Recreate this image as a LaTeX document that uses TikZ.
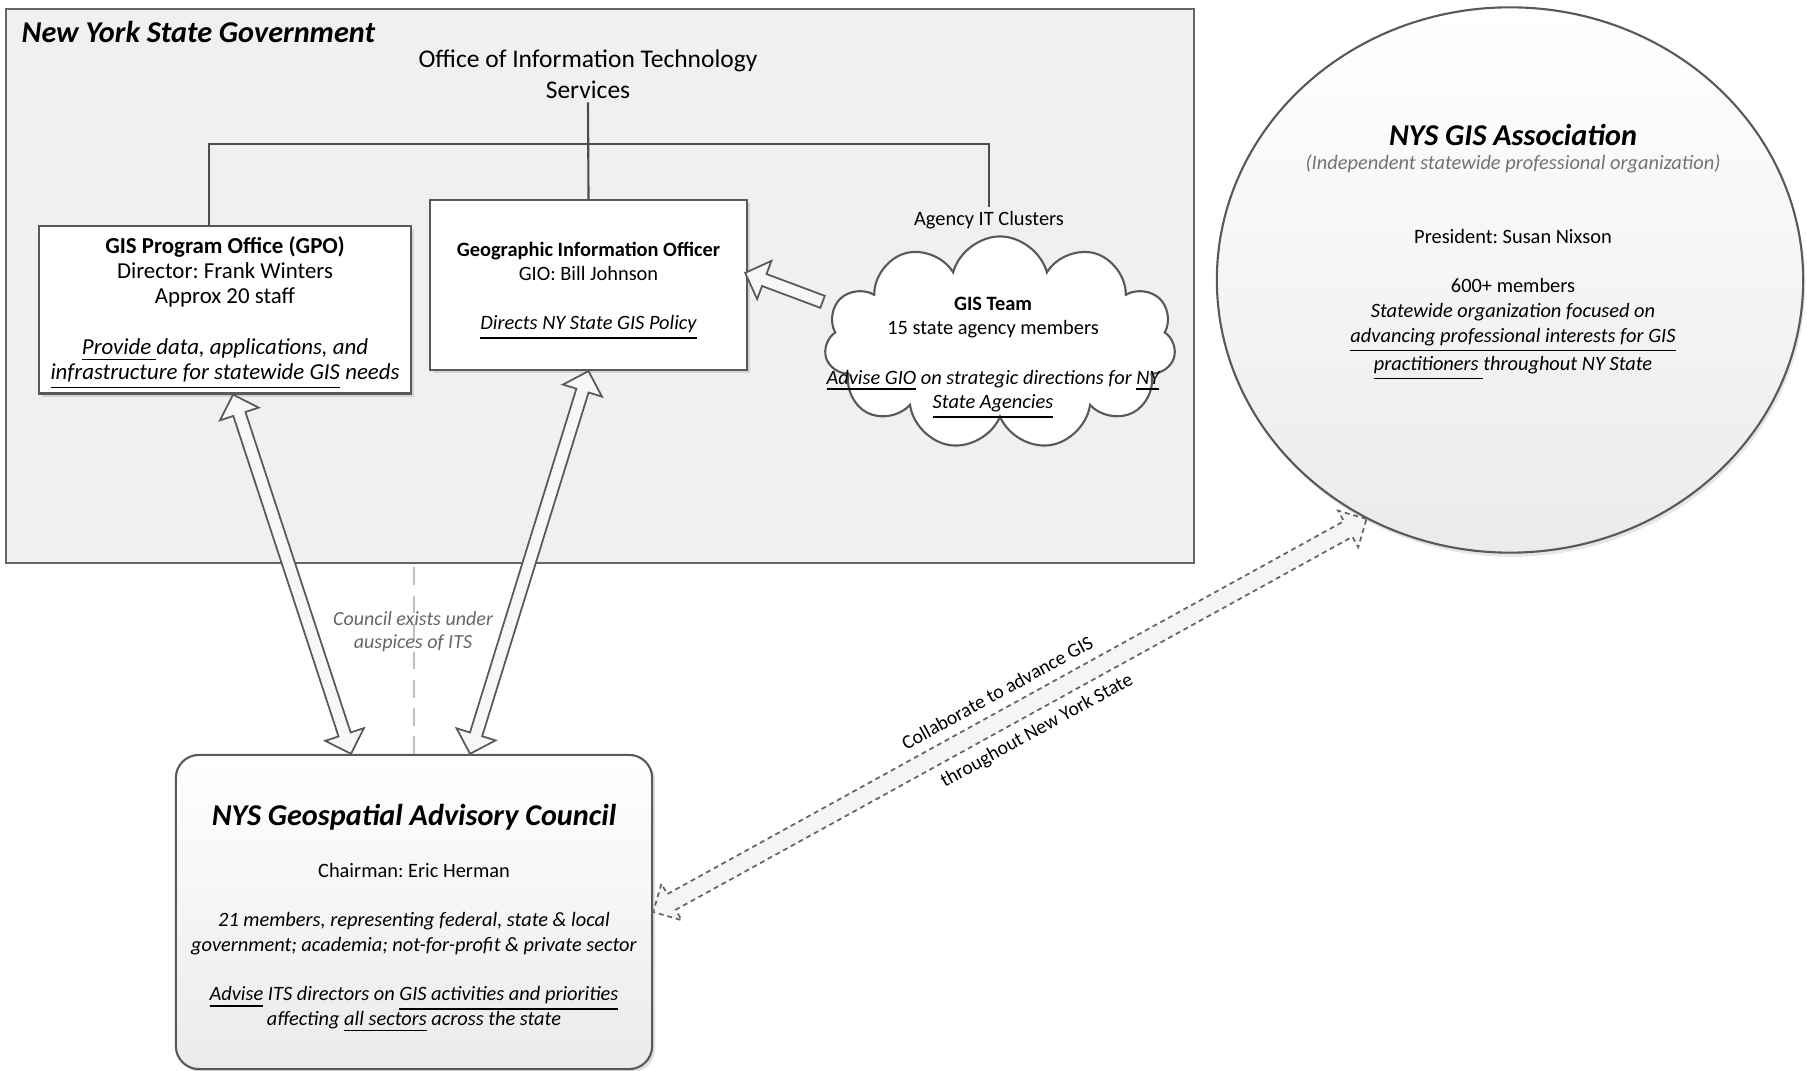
\documentclass[tikz,border=0pt]{standalone}
\usepackage{fontspec}
\setmainfont{Carlito}
\usetikzlibrary{calc,shapes.arrows,shapes.symbols,shapes.geometric,shadows}

\newcommand{\bodyfont}{\fontsize{5.8}{7}\selectfont}
\newcommand{\headfont}{\fontsize{8.6}{10}\selectfont\bfseries\itshape}
\newcommand{\notefont}{\fontsize{5.7}{6.5}\selectfont\itshape}
% hollow block arrow between two points: [style]{single|double}{from}{to}
\newcommand{\blockarrow}[4][]{%
  \path let \p1 = ($(#4)-(#3)$), \n1 = {atan2(\y1,\x1)}, \n2 = {veclen(\x1,\y1)} in
    node[#2 arrow, hollow, rotate=\n1, minimum height=\n2, #1] at ($(#3)!0.5!(#4)$) {};}

\begin{document}
\frenchspacing
\begin{tikzpicture}[x=0.01cm, y=-0.01cm,
    govbox/.style={draw=black!60, fill=black!6, line width=0.6pt},
    unitbox/.style={draw=black!65, fill=white, line width=0.6pt, inner sep=0pt,
      drop shadow={opacity=0.25, shadow xshift=0.03cm, shadow yshift=-0.03cm}},
    tree/.style={draw=black!70, line width=0.6pt},
    hollow/.style={draw=black!65, fill=black!3, line width=0.5pt, inner xsep=0pt,
      inner ysep=0.055cm, single arrow head extend=0.14cm, double arrow head extend=0.14cm},
    collab/.style={draw=black!60, fill=black!4, dash pattern=on 1.4pt off 1.1pt,
      inner ysep=0.08cm, double arrow head extend=0.12cm},
    txt/.style={align=center, inner sep=1pt, font=\bodyfont},
    note/.style={align=center, inner sep=1pt, text=black!60, font=\notefont},
    collabtxt/.style={sloped, inner sep=1pt, font=\fontsize{5.6}{6.5}\selectfont}]
  \useasboundingbox (0,0) rectangle (1807,1071);

  % state government frame
  \node[govbox, minimum width=11.88cm, minimum height=5.54cm] (nysgov) at (600,286) {};
  \node[anchor=west, inner sep=0pt, font=\headfont] (govtitle) at (21,32) {New York State Government};
  \node[align=center, inner sep=1pt, font=\fontsize{7.25}{8.7}\selectfont] (its) at (588,74)
    {Office of Information Technology\\Services};

  % units under ITS
  \node[unitbox, minimum width=3.71cm, minimum height=1.67cm] (gpo) at (225,310) {};
  \node[txt, font=\fontsize{6.5}{7.2}\selectfont] (gpotext) at ([yshift=-0.03cm]gpo.center)
    {\textbf{GIS Program Office (GPO)}\\Director: Frank Winters\\Approx 20 staff\\[7.2pt]
    \textit{\underline{Provide }data, applications, and}\\\textit{\underline{infrastructure for statewide GIS} needs}};
  \node[unitbox, minimum width=3.17cm, minimum height=1.70cm] (gio) at (588.5,285) {};
  \node[txt] (giotext) at ([yshift=-0.06cm]gio.center) {\textbf{Geographic Information Officer}\\GIO: Bill Johnson\\[7pt]
    \textit{\underline{Directs NY State GIS Policy}}};
  \node[txt] (clusters) at (989,220) {Agency IT Clusters};
  \node[cloud, cloud puffs=11, cloud ignores aspect, draw=black!65, fill=white, line width=0.6pt,
    minimum width=3.51cm, minimum height=2.13cm] (team) at (1000,343) {};
  \node[txt] (teamtext) at (993,358) {\textbf{GIS Team}\\15 state agency members\\[7pt]
    \textit{\underline{Advise GIO} on strategic directions for \underline{NY}}\\\textit{\underline{State Agencies}}};

  % org tree
  \draw[tree] (its.south) -- (gio.north);
  \draw[tree] ([xshift=-0.16cm]gpo.north) -- ++(0,-81) -| (clusters.north);

  % association
  \node[ellipse, draw=black!65, line width=0.6pt, top color=white, bottom color=black!8,
    minimum width=5.86cm, minimum height=5.45cm, inner sep=0pt,
    drop shadow={opacity=0.2, shadow xshift=0.02cm, shadow yshift=-0.04cm}] (assoc) at (1510,280) {};
  \node[inner sep=1pt, font=\headfont] (assoctitle) at (1513,135) {NYS GIS Association};
  \node[note, text=black!55, font=\fontsize{5.8}{6.5}\selectfont\itshape] (assocsub) at (1513,164)
    {(Independent statewide professional organization)};
  \node[txt] (assocbody) at (1513,305) {President: Susan Nixson\\[7pt]600+ members\\
    \textit{Statewide organization focused on}\\\textit{\underline{advancing professional interests for GIS}}\\
    \textit{\underline{practitioners }throughout NY State}};

  % advisory council
  \node[draw=black!65, line width=0.6pt, rounded corners=0.23cm, top color=white, bottom color=black!8,
    minimum width=4.76cm, minimum height=3.14cm,
    drop shadow={opacity=0.25, shadow xshift=0.03cm, shadow yshift=-0.03cm}] (council) at (414,912) {};
  \node[inner sep=1pt, font=\headfont] (counciltitle) at (414,817) {NYS Geospatial Advisory Council};
  \node[txt] (councilbody) at (414,948) {Chairman: Eric Herman\\[7pt]
    \textit{21 members, representing federal, state \& local}\\
    \textit{government; academia; not-for-profit \& private sector}\\[7pt]
    \textit{\underline{Advise} ITS directors on \underline{GIS activities and priorities}}\\
    \textit{affecting \underline{all sectors} across the state}};

  % council under ITS
  \draw[black!25, line width=0.8pt, dash pattern=on 5pt off 3pt] (council.north) -- (council.north |- nysgov.south);
  \node[note] (auspices) at (413,632) {Council exists under\\auspices of ITS};

  % arrows
  \blockarrow{double}{[xshift=0.08cm]gpo.south}{[xshift=-0.63cm]council.north}
  \blockarrow{double}{gio.south}{[xshift=0.56cm]council.north}
  \blockarrow[anchor=center]{single}{[yshift=0.4cm]team.west}{[yshift=0.11cm]gio.east}
  \blockarrow[collab]{double}{council.east}{assoc.239}
  \path (council.east) -- node[collabtxt, above=0.15cm] (collabtop) {Collaborate to advance GIS}
    node[collabtxt, below=0.14cm, pos=0.52] (collabbot) {throughout New York State} (assoc.239);
\end{tikzpicture}
\end{document}
